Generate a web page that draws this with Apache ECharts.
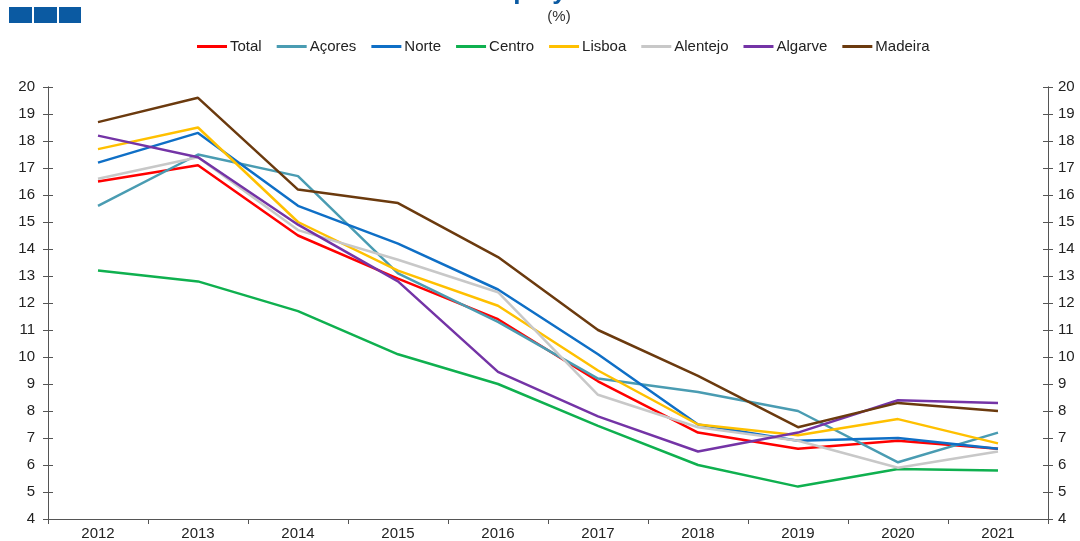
<!DOCTYPE html>
<html>
<head>
<meta charset="utf-8">
<script src="https://cdn.jsdelivr.net/npm/echarts@6/dist/echarts.min.js"></script>
<style>
  html, body { margin: 0; padding: 0; background: #fff; }
  #chart { width: 1080px; height: 541px; }
</style>
</head>
<body>
<div id="chart"></div>
<script>
// data
const years = ["2012", "2013", "2014", "2015", "2016", "2017", "2018", "2019", "2020", "2021"];
const total    = [16.5, 17.1, 14.5, 12.9, 11.4, 9.1, 7.2, 6.6, 6.9, 6.6];
const acores   = [15.6, 17.5, 16.7, 13.1, 11.3, 9.2, 8.7, 8.0, 6.1, 7.2];
const norte    = [17.2, 18.3, 15.6, 14.2, 12.5, 10.1, 7.5, 6.9, 7.0, 6.6];
const centro   = [13.2, 12.8, 11.7, 10.1, 9.0, 7.45, 6.0, 5.2, 5.85, 5.8];
const lisboa   = [17.7, 18.5, 15.0, 13.2, 11.9, 9.5, 7.5, 7.1, 7.7, 6.8];
const alentejo = [16.6, 17.4, 14.7, 13.6, 12.4, 8.6, 7.4, 6.9, 5.9, 6.5];
const algarve  = [18.2, 17.4, 14.9, 12.8, 9.45, 7.8, 6.5, 7.2, 8.4, 8.3];
const madeira  = [18.7, 19.6, 16.2, 15.7, 13.7, 11.0, 9.3, 7.4, 8.3, 8.0];

const names  = ["Total", "Açores", "Norte", "Centro", "Lisboa", "Alentejo", "Algarve", "Madeira"];
const values = [total, acores, norte, centro, lisboa, alentejo, algarve, madeira];
const colors = ["#ff0000", "#4a9cb2", "#0f6fc6", "#0fb04f", "#ffc000", "#c8c8c8", "#7434a6", "#6b3a0e"];

const chart = echarts.init(document.getElementById("chart"));

const font = "Liberation Sans, Arial, sans-serif";
const axisColor = "#555";
const blue = "#0b5aa2";

// one axis draws outer ticks + labels, a twin draws the inner half of the ticks
function yAxis(pos, inside, labels, margin) {
  return {
    type: "value",
    position: pos,
    min: 4,
    max: 20,
    interval: 1,
    axisLine: { show: true, lineStyle: { color: axisColor, width: 1 } },
    axisTick: { show: true, inside: inside, length: 5, lineStyle: { color: axisColor } },
    axisLabel: { show: labels, color: "#222", fontSize: 15, fontFamily: font, margin: margin },
    splitLine: { show: false }
  };
}

const option = {
  animation: false,
  title: {
    text: "(%)",
    left: 554,
    textAlign: "center",
    top: 4,
    textStyle: { fontSize: 15, fontWeight: "normal", color: "#333", fontFamily: font }
  },
  graphic: [
    { type: "rect", shape: { x: 9, y: 7, width: 23, height: 16 }, style: { fill: blue } },
    { type: "rect", shape: { x: 34, y: 7, width: 23, height: 16 }, style: { fill: blue } },
    { type: "rect", shape: { x: 59, y: 7, width: 22, height: 16 }, style: { fill: blue } },
    {
      type: "text",
      left: 441,
      top: -21,
      style: { text: "Unemployment rate", fill: blue, font: "bold 26px " + font }
    }
  ],
  legend: {
    data: names,
    top: 34,
    left: 192,
    icon: "rect",
    itemWidth: 30,
    itemHeight: 3,
    itemGap: 15,
    textStyle: { fontSize: 15, color: "#222", fontFamily: font, padding: [0, 0, 0, -2] }
  },
  grid: { left: 48, right: 32, top: 87, bottom: 20 },
  xAxis: {
    type: "category",
    data: years,
    boundaryGap: true,
    axisLine: { lineStyle: { color: axisColor, width: 1 } },
    axisTick: { show: true, length: 5, alignWithLabel: false, lineStyle: { color: axisColor } },
    axisLabel: { color: "#222", fontSize: 15, fontFamily: font, margin: 7 }
  },
  yAxis: [
    yAxis("left", false, true, 13),
    yAxis("left", true, false, 13),
    yAxis("right", false, true, 10),
    yAxis("right", true, false, 10)
  ],
  series: names.map((n, i) => ({
    name: n,
    type: "line",
    data: values[i],
    yAxisIndex: 0,
    symbol: "none",
    color: colors[i],
    lineStyle: { width: 2.5, color: colors[i] }
  }))
};

chart.setOption(option);
</script>
</body>
</html>
